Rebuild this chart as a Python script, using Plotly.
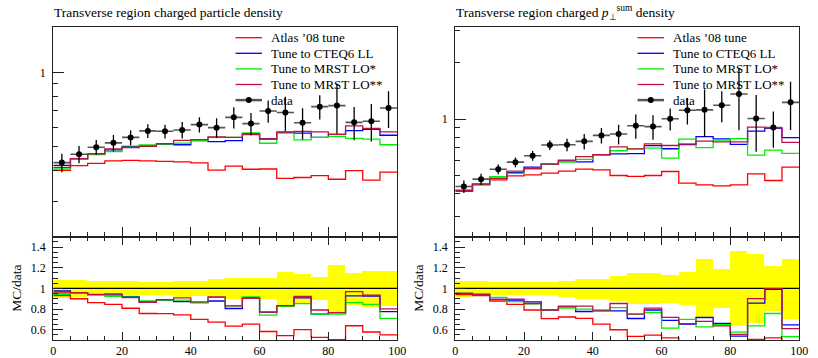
import plotly.graph_objects as go

# ---------------- data ----------------
bin_edges = list(range(0, 105, 5))
bin_centers = [e + 2.5 for e in bin_edges[:-1]]

# Left: transverse region charged particle density
nch_data = [0.431, 0.466, 0.497, 0.518, 0.545, 0.579, 0.577, 0.584, 0.614, 0.597,
            0.657, 0.620, 0.697, 0.687, 0.625, 0.726, 0.733, 0.627, 0.634, 0.717]
nch_relerr = [0.087, 0.080, 0.070, 0.077, 0.070, 0.064, 0.064, 0.077, 0.070, 0.092,
              0.099, 0.103, 0.103, 0.160, 0.144, 0.112, 0.230, 0.154, 0.173, 0.170]
nch_atlas08 = [0.401, 0.419, 0.428, 0.438, 0.440, 0.438, 0.436, 0.434, 0.430, 0.402,
               0.417, 0.405, 0.406, 0.372, 0.375, 0.382, 0.369, 0.400, 0.366, 0.394]
nch_cteq6ll = [0.420, 0.446, 0.467, 0.485, 0.501, 0.504, 0.511, 0.509, 0.529, 0.524,
               0.529, 0.564, 0.537, 0.572, 0.567, 0.545, 0.561, 0.581, 0.587, 0.556]
nch_mrstlo1 = [0.406, 0.446, 0.464, 0.478, 0.498, 0.508, 0.512, 0.517, 0.529, 0.545,
               0.545, 0.569, 0.516, 0.567, 0.533, 0.545, 0.550, 0.540, 0.536, 0.509]
nch_mrstlo2 = [0.412, 0.447, 0.468, 0.490, 0.496, 0.501, 0.514, 0.530, 0.534, 0.547,
               0.545, 0.560, 0.537, 0.572, 0.577, 0.574, 0.561, 0.607, 0.593, 0.574]

# Right: transverse region charged pT-sum density
pts_data = [0.435, 0.476, 0.538, 0.587, 0.635, 0.725, 0.728, 0.759, 0.817, 0.831,
            0.921, 0.911, 1.004, 1.115, 1.120, 1.185, 1.362, 1.006, 0.900, 1.229]
pts_relerr = [0.077, 0.070, 0.060, 0.060, 0.060, 0.060, 0.077, 0.096, 0.096, 0.122,
              0.150, 0.150, 0.135, 0.163, 0.285, 0.190, 0.360, 0.337, 0.220, 0.290]
pts_atlas08 = [0.409, 0.443, 0.472, 0.496, 0.502, 0.513, 0.526, 0.539, 0.534, 0.498,
               0.492, 0.498, 0.523, 0.453, 0.443, 0.438, 0.443, 0.508, 0.468, 0.552]
pts_cteq6ll = [0.414, 0.448, 0.481, 0.515, 0.552, 0.573, 0.597, 0.589, 0.639, 0.650,
               0.652, 0.720, 0.693, 0.730, 0.804, 0.782, 0.731, 0.862, 0.891, 0.794]
pts_mrstlo1 = [0.414, 0.448, 0.491, 0.511, 0.540, 0.573, 0.588, 0.607, 0.639, 0.676,
               0.691, 0.698, 0.617, 0.781, 0.703, 0.770, 0.785, 0.641, 0.681, 0.654]
pts_mrstlo2 = [0.414, 0.448, 0.481, 0.525, 0.542, 0.573, 0.602, 0.628, 0.645, 0.709,
               0.691, 0.736, 0.721, 0.734, 0.762, 0.755, 0.755, 0.905, 0.898, 0.750]

series_names = ["Atlas ’08 tune", "Tune to CTEQ6 LL", "Tune to MRST LO*", "Tune to MRST LO**"]
series_colors = ["#ff0000", "#0000ff", "#00ee00", "#c0104a"]
titles = ["Transverse region charged particle density",
          "Transverse region charged <i>p</i><sub>⊥</sub><sup>sum</sup> density"]

x_ticks = [0, 20, 40, 60, 80, 100]
ratio_ticks = [0.6, 0.8, 1.0, 1.2, 1.4]
ratio_ticklabels = ["0.6", "0.8", "1", "1.2", "1.4"]

FONT = "Liberation Serif"

# ---------------- figure ----------------
# the page's body margin is removed (post_script), so figure px == window px
W, H = 818, 358


def fx(px):
    return px / W


def fy(py):
    return 1 - py / H


fig = go.Figure()

panels = [
    dict(data=nch_data, relerr=nch_relerr,
         mc=[nch_atlas08, nch_cteq6ll, nch_mrstlo1, nch_mrstlo2],
         xl=51, xr=400, yrange=[-0.6656, 0.1834], title_mid=13,
         minor=[0.3, 0.4, 0.5, 0.6, 0.7, 0.8, 0.9]),
    dict(data=pts_data, relerr=pts_relerr,
         mc=[pts_atlas08, pts_cteq6ll, pts_mrstlo1, pts_mrstlo2],
         xl=459, xr=808, yrange=[-0.631, 0.4935], title_mid=13,
         minor=[0.3, 0.4, 0.5, 0.6, 0.7, 0.8, 0.9, 2, 3]),
]

main_top, main_bot = 27, 236.7
rat_top, rat_bot = 236.7, 340


def step(vals):
    return bin_edges, list(vals) + [vals[-1]]


axis_common = dict(showgrid=False, zeroline=False, showline=True, linecolor="#222",
                   linewidth=1, ticks="inside", tickcolor="#222",
                   tickfont=dict(family=FONT, size=12, color="black"))

for p_i, p in enumerate(panels):
    n_main = 2 * p_i + 1
    n_rat = 2 * p_i + 2
    xm, ym = (f"x{n_main}", f"y{n_main}") if n_main > 1 else ("x", "y")
    xr_, yr_ = f"x{n_rat}", f"y{n_rat}"
    dom = [fx(p["xl"]), fx(p["xr"])]

    data = p["data"]
    errs = [d * e for d, e in zip(data, p["relerr"])]

    # ratio band (data uncertainty)
    fig.add_trace(go.Bar(x=bin_centers, y=[2 * e for e in p["relerr"]],
                         base=[1 - e for e in p["relerr"]], width=5,
                         marker=dict(color="#ffff00", line=dict(width=0)),
                         xaxis=xr_, yaxis=yr_, hoverinfo="skip"))
    fig.add_trace(go.Scatter(x=[0, 100], y=[1, 1], mode="lines",
                             line=dict(color="black", width=1.2),
                             xaxis=xr_, yaxis=yr_))

    for vals, col in zip(p["mc"], series_colors):
        xs, ys = step(vals)
        fig.add_trace(go.Scatter(x=xs, y=ys, mode="lines", line=dict(color=col, width=1.3, shape="hv"),
                                 xaxis=xm, yaxis=ym))
        ratio = [m / d for m, d in zip(vals, data)]
        xs, ys = step(ratio)
        fig.add_trace(go.Scatter(x=xs, y=ys, mode="lines", line=dict(color=col, width=1.3, shape="hv"),
                                 xaxis=xr_, yaxis=yr_))

    fig.add_trace(go.Scatter(x=bin_centers, y=data, mode="markers",
                             marker=dict(color="black", size=6),
                             error_y=dict(type="data", array=errs, color="black", thickness=1.3, width=0),
                             error_x=dict(type="constant", value=2.5, color="#555", thickness=1.6, width=0),
                             xaxis=xm, yaxis=ym))

    lay = {}
    lay[("xaxis" if n_main == 1 else f"xaxis{n_main}")] = dict(
        axis_common, domain=dom, anchor=ym, range=[0, 100], mirror=True,
        tickmode="array", tickvals=x_ticks, ticklen=10, showticklabels=False,
        minor=dict(tickmode="linear", tick0=0, dtick=5, ticklen=5, ticks="inside", tickcolor="#222"))
    lay[("yaxis" if n_main == 1 else f"yaxis{n_main}")] = dict(
        axis_common, domain=[fy(main_bot), fy(main_top)], anchor=xm, type="log",
        range=p["yrange"], mirror=True, tickmode="array", tickvals=[1], ticktext=["1"],
        ticklen=11, ticklabelstandoff=4,
        minor=dict(tickmode="array", tickvals=p["minor"], ticklen=5, ticks="inside", tickcolor="#222"))
    lay[f"xaxis{n_rat}"] = dict(
        axis_common, domain=dom, anchor=yr_, range=[0, 100], mirror="allticks",
        tickmode="array", tickvals=x_ticks, ticklen=8,
        minor=dict(tickmode="linear", tick0=0, dtick=5, ticklen=4, ticks="inside", tickcolor="#222"))
    lay[f"yaxis{n_rat}"] = dict(
        axis_common, domain=[fy(rat_bot), fy(rat_top)], anchor=xr_, range=[0.5, 1.5],
        mirror=True, tickmode="array", tickvals=ratio_ticks, ticktext=ratio_ticklabels,
        ticklen=10, ticklabelstandoff=4,
        minor=dict(tickmode="linear", tick0=0.5, dtick=0.05, ticklen=5, ticks="inside", tickcolor="#222"))
    fig.update_layout(**lay)

    # title
    fig.add_annotation(text=titles[p_i], xref="paper", yref="paper",
                       x=fx(p["xl"]), y=fy(p["title_mid"]), xanchor="left", yanchor="middle",
                       valign="middle", borderpad=0,
                       showarrow=False, font=dict(family=FONT, size=13.5, color="black"))
    # ratio y label
    fig.add_annotation(text="MC/data", xref="paper", yref="paper", textangle=-90,
                       x=fx(p["xl"] - 38), y=fy(288), xanchor="center", yanchor="middle",
                       showarrow=False, font=dict(family=FONT, size=13.5, color="black"))

    # legend (drawn in the main panel's domain coordinates)
    xd, yd = f"{xm} domain", f"{ym} domain"
    labels = series_names + ["data"]
    for i, lab in enumerate(labels):
        yy = 0.949 - 0.0744 * i
        if i < len(series_names):
            fig.add_shape(type="line", xref=xd, yref=yd, x0=0.530, x1=0.607, y0=yy, y1=yy,
                          line=dict(color=series_colors[i], width=1.3))
        else:
            fig.add_shape(type="line", xref=xd, yref=yd, x0=0.530, x1=0.607, y0=yy, y1=yy,
                          line=dict(color="#555", width=2.5))
            fig.add_shape(type="circle", xref=xd, yref=yd, xsizemode="pixel", ysizemode="pixel",
                          xanchor=0.5685, yanchor=yy, x0=-3, x1=3, y0=-3, y1=3,
                          fillcolor="black", line=dict(color="black", width=0))
        fig.add_annotation(text=lab, xref=xd, yref=yd, x=0.6275, y=yy, xanchor="left",
                           yanchor="middle", showarrow=False,
                           font=dict(family=FONT, size=13, color="black"))

fig.update_layout(width=W, height=H, margin=dict(l=0, r=0, t=0, b=0),
                  paper_bgcolor="white", plot_bgcolor="white", showlegend=False,
                  barmode="overlay", bargap=0)

fig.write_html("out.html", config={"displayModeBar": False},
               post_script="document.body.style.margin='0px';")
